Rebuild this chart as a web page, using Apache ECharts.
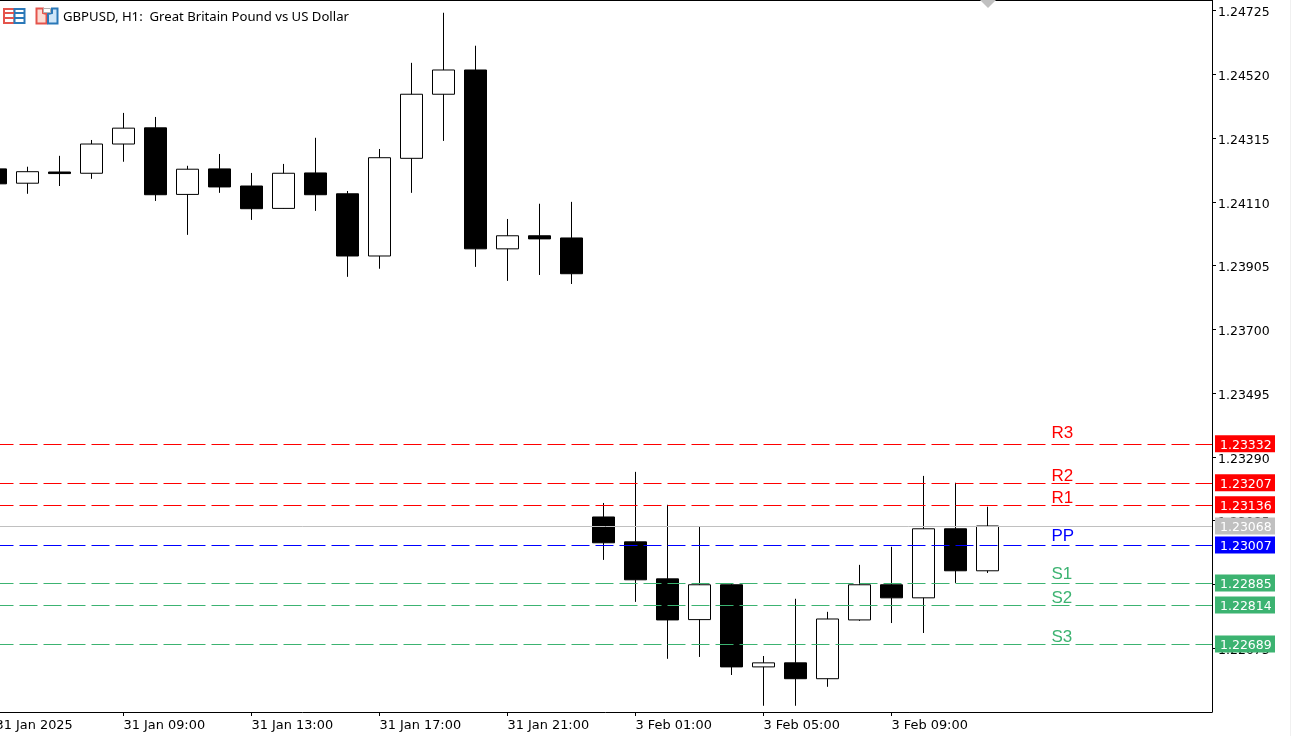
<!DOCTYPE html>
<html>
<head>
    <meta charset="utf-8">
    <script src="https://cdn.jsdelivr.net/npm/echarts@6/dist/echarts.min.js"></script>
    <style>html, body { margin: 0; padding: 0; background: #fff; overflow: hidden; }</style>
</head>
<body>
    <div id="main" style="width: 1291px;height:736px;"></div>
    <script type="text/javascript">
        // hourly bars, 31 Jan 05:00 to 3 Feb 12:00 (bar number = position on the x axis)
        var opens  = [1.24216, 1.24170, 1.24206, 1.24202, 1.24296, 1.24348, 1.24134, 1.24216, 1.24161, 1.24089, 1.24203, 1.24136, 1.23936, 1.24250, 1.24456, 1.24534, 1.23959, 1.24001, 1.23994, 1.23097, 1.23017, 1.22898, 1.22767, 1.22879, 1.22615, 1.22628, 1.22577, 1.22766, 1.22879, 1.22837, 1.23059, 1.22924];
        var closes = [1.24168, 1.24207, 1.24201, 1.24296, 1.24347, 1.24133, 1.24215, 1.24158, 1.24088, 1.24202, 1.24133, 1.23936, 1.24252, 1.24456, 1.24534, 1.23959, 1.24001, 1.23991, 1.23879, 1.23014, 1.22895, 1.22766, 1.22879, 1.22615, 1.22628, 1.22577, 1.22769, 1.22879, 1.22837, 1.23059, 1.22924, 1.23068];
        var lows   = [1.24168, 1.24136, 1.24161, 1.24184, 1.24239, 1.24113, 1.24004, 1.24139, 1.24052, 1.24088, 1.24081, 1.23869, 1.23895, 1.24139, 1.24306, 1.23901, 1.23856, 1.23875, 1.23846, 1.22959, 1.22824, 1.22641, 1.22647, 1.22589, 1.22490, 1.22490, 1.22551, 1.22763, 1.22756, 1.22724, 1.22885, 1.22917];
        var highs  = [1.24216, 1.24223, 1.24258, 1.24309, 1.24396, 1.24383, 1.24226, 1.24264, 1.24203, 1.24232, 1.24316, 1.24145, 1.24280, 1.24557, 1.24718, 1.24612, 1.24055, 1.24104, 1.24110, 1.23142, 1.23242, 1.23136, 1.23065, 1.22882, 1.22650, 1.22834, 1.22792, 1.22943, 1.23001, 1.23229, 1.23207, 1.23130];

        var timeTicks  = [0, 4, 8, 12, 16, 20, 24, 28];
        var timeLabels = ['31 Jan 2025', '31 Jan 09:00', '31 Jan 13:00', '31 Jan 17:00', '31 Jan 21:00', '3 Feb 01:00', '3 Feb 05:00', '3 Feb 09:00'];
        var priceTicks = [1.24725, 1.24520, 1.24315, 1.24110, 1.23905, 1.23700, 1.23495, 1.23290, 1.23085, 1.22880, 1.22675];

        var levelNames  = ['R3', 'R2', 'R1', 'PP', 'S1', 'S2', 'S3'];
        var levelValues = [1.23332, 1.23207, 1.23136, 1.23007, 1.22885, 1.22814, 1.22689];
        var levelColors = ['#ff0000', '#ff0000', '#ff0000', '#0000ff', '#3cb371', '#3cb371', '#3cb371'];
        var lastPrice = 1.23068;

        var nameLift = { R3: 10.5, R2: 6, R1: 6.5, PP: 8.5, S1: 8.5, S2: 6.5, S3: 6.5 };
        var uiFont = 'DejaVu Sans';

        function priceTag(color) {
            return {
                show: true,
                position: 'end',
                distance: 3,
                formatter: function (p) { return '{t|' + p.value.toFixed(5) + '}'; },
                backgroundColor: color,
                padding: [0, 4, 0, 5],
                rich: {
                    t: {
                        color: '#fff',
                        fontFamily: uiFont,
                        fontSize: 12.5,
                        width: 51,
                        lineHeight: 17,
                        height: 17,
                        padding: [3, 0, 0, 0]
                    }
                }
            };
        }

        var lines = levelValues.map(function (v, i) {
            return {
                yAxis: v,
                lineStyle: { color: levelColors[i], type: [18, 6], width: 1 },
                label: priceTag(levelColors[i])
            };
        });
        lines.splice(3, 0, {
            yAxis: lastPrice,
            lineStyle: { color: '#c0c0c0', type: 'solid', width: 1 },
            label: priceTag('#c0c0c0')
        });

        var myChart = echarts.init(document.getElementById('main'));
        var option = {
            animation: false,
            backgroundColor: '#fff',
            title: {
                text: 'GBPUSD, H1:  Great Britain Pound vs US Dollar',
                left: 63,
                top: 11,
                padding: 0,
                textStyle: { color: '#000', fontFamily: 'Noto Sans', fontSize: 13.15, fontWeight: 'normal' }
            },
            grid: { left: -4.5, top: 0, width: 1216.5, height: 712, outerBoundsMode: 'none' },
            xAxis: {
                type: 'value',
                min: 0,
                max: 38.0156,
                splitLine: { show: false },
                axisLine: { show: true, onZero: false, lineStyle: { color: '#000', width: 1 } },
                axisTick: { show: true, length: 4, customValues: timeTicks, lineStyle: { color: '#000' } },
                axisLabel: {
                    customValues: timeTicks,
                    margin: 7,
                    align: 'left',
                    color: '#000',
                    fontFamily: uiFont,
                    fontSize: 12.9,
                    formatter: function (v) { return timeLabels[timeTicks.indexOf(v)]; }
                }
            },
            yAxis: {
                type: 'value',
                position: 'right',
                min: 1.22470,
                max: 1.24759,
                scale: true,
                splitLine: { show: false },
                axisLine: { show: true, onZero: false, lineStyle: { color: '#000', width: 1 } },
                axisTick: { show: true, length: 4, customValues: priceTicks, lineStyle: { color: '#000' } },
                axisLabel: {
                    customValues: priceTicks,
                    margin: 6,
                    formatter: function (v) { return '{p|' + v.toFixed(5) + '}'; },
                    rich: {
                        p: {
                            color: '#000',
                            fontFamily: uiFont,
                            fontSize: 12.5,
                            padding: [5, 0, 0, 0]
                        }
                    }
                }
            },
            series: [
                {
                    type: 'candlestick',
                    barWidth: 22,
                    data: opens.map(function (o, i) {
                        return [i, o, closes[i], lows[i], highs[i]];
                    }),
                    itemStyle: {
                        color: '#fff',
                        color0: '#000',
                        borderColor: '#000',
                        borderColor0: '#000',
                        borderWidth: 1
                    },
                    markLine: {
                        silent: true,
                        symbol: 'none',
                        animation: false,
                        precision: 5,
                        data: lines
                    }
                },
                {
                    type: 'scatter',
                    symbolSize: 0,
                    silent: true,
                    itemStyle: { opacity: 1 },
                    data: levelValues.map(function (v, i) {
                        return {
                            value: [33, v],
                            label: {
                                show: true,
                                position: 'right',
                                distance: 0,
                                offset: [0, -nameLift[levelNames[i]]],
                                formatter: levelNames[i],
                                color: levelColors[i],
                                fontFamily: 'Liberation Sans',
                                fontSize: 17
                            }
                        };
                    })
                }
            ],
            graphic: [
                // top edge of the chart and the window edge
                { type: 'rect', shape: { x: 0, y: 0, width: 1213, height: 1 }, style: { fill: '#000' } },
                { type: 'rect', shape: { x: 1290, y: 0, width: 1, height: 736 }, style: { fill: '#f0f0f0' } },
                // shift marker
                { type: 'polygon', shape: { points: [[980, 0], [996, 0], [988, 8]] }, style: { fill: '#c0c0c0' } },
                // toolbar icons
                { type: 'rect', shape: { x: 4, y: 9, width: 10.5, height: 14 }, style: { fill: '#fff', stroke: '#e4544c', lineWidth: 2 } },
                { type: 'rect', shape: { x: 14.5, y: 9, width: 10, height: 14 }, style: { fill: '#fff', stroke: '#2a78b8', lineWidth: 2 } },
                { type: 'rect', shape: { x: 5, y: 12, width: 9, height: 2 }, style: { fill: '#e4544c' } },
                { type: 'rect', shape: { x: 5, y: 17, width: 9, height: 2 }, style: { fill: '#e4544c' } },
                { type: 'rect', shape: { x: 15, y: 12, width: 9, height: 2 }, style: { fill: '#2a78b8' } },
                { type: 'rect', shape: { x: 15, y: 17, width: 9, height: 2 }, style: { fill: '#2a78b8' } },
                { type: 'polygon', shape: { points: [[36.5, 8.5], [43, 8.5], [43, 13], [46.5, 14], [46.5, 23.5], [36.5, 23.5]] }, style: { fill: '#fcdcd4', stroke: '#e4544c', lineWidth: 2 } },
                { type: 'polygon', shape: { points: [[52, 8.5], [57.5, 8.5], [57.5, 23.5], [48, 23.5], [48, 14], [52, 13]] }, style: { fill: '#cfe6f8', stroke: '#2a78b8', lineWidth: 2 } },
                { type: 'rect', shape: { x: 43.5, y: 8.5, width: 7, height: 4 }, style: { fill: '#fff', stroke: '#b0b0b0', lineWidth: 1 } }
            ]
        };
        myChart.setOption(option);
    </script>
</body>
</html>
